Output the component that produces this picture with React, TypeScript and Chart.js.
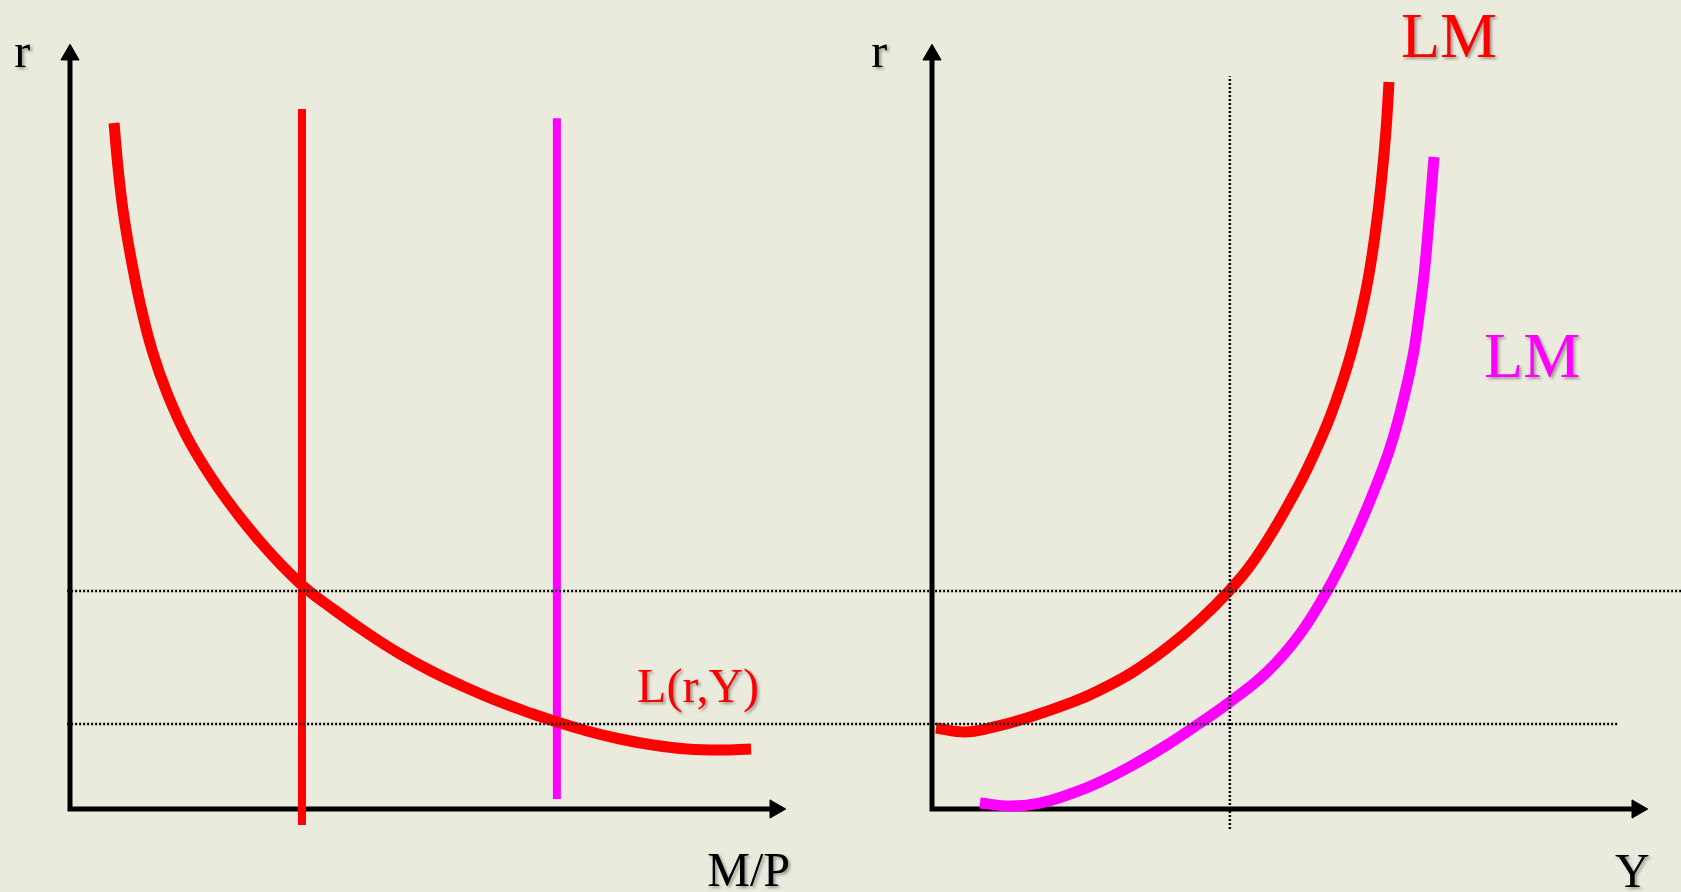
import React, { useEffect, useRef } from 'react';
import { Chart, registerables } from 'chart.js';

Chart.register(...registerables);

// ---------- Data (panel units: each axis runs 0..100 to its arrow tip) ----------
// Left panel: money demand L(r,Y) against M/P
const demandMP = [6.15, 6.70, 7.40, 8.38, 9.78, 11.45, 13.55, 16.34, 19.97, 24.16, 28.21, 32.40, 36.73, 41.48, 46.09, 50.70, 55.45, 60.06, 64.66, 68.02, 72.21, 76.82, 81.42, 86.17, 90.78, 95.11];
const demandR = [89.67, 83.92, 78.30, 72.68, 66.14, 60.00, 54.38, 48.63, 43.01, 37.65, 33.20, 29.28, 26.14, 23.01, 20.26, 17.91, 15.82, 13.99, 12.42, 11.37, 10.20, 9.15, 8.37, 7.84, 7.71, 7.84];

// Money supply verticals (M/P level, r range)
const supply1MP = 32.4;
const supply1R = [-2.1, 91.5];
const supply2MP = 68.0;
const supply2R = [1.3, 90.3];

// Right panel: LM curves (Y, r)
const lm1Y = [0.56, 4.61, 8.10, 13.27, 19.69, 23.46, 28.07, 32.82, 37.43, 41.48, 44.41, 47.63, 51.40, 53.63, 55.59, 57.40, 58.66, 59.78, 60.89, 61.87, 62.71, 63.41, 63.83];
const lm1R = [10.59, 10.07, 10.59, 11.90, 13.99, 15.56, 17.91, 21.05, 24.71, 28.50, 31.76, 36.34, 42.61, 46.93, 51.24, 56.08, 60.00, 64.18, 69.15, 75.03, 81.57, 88.76, 95.03];
const lm2Y = [6.70, 10.89, 15.08, 19.69, 23.46, 28.07, 32.82, 37.43, 41.62, 46.79, 51.40, 55.17, 58.80, 62.01, 63.97, 65.36, 66.48, 67.32, 68.02, 68.72, 69.27, 69.69, 70.11];
const lm2R = [0.78, 0.39, 0.78, 2.09, 3.53, 5.75, 8.37, 11.24, 13.99, 17.91, 22.88, 28.50, 35.16, 42.22, 47.19, 51.76, 56.08, 60.00, 64.58, 69.80, 75.42, 80.26, 85.23];

// Reference levels (dotted guides)
const rLevels = [28.5, 11.1];
const rLevelSpanMP = [[-0.4, 225.0], [-0.4, 216.3]];
const yStar = 41.6;
const yStarR = [-2.6, 95.8];

// Axes (arrow head centres)
const axisEnd = [98.5, 98.6]; // [horizontal, vertical]

// Labels
const labelTexts = ['r', 'r', 'M/P', 'Y', 'L(r,Y)', 'LM', 'LM'];
const labelAxes = ['xL', 'xR', 'xL', 'xR', 'xL', 'xR', 'xR'];
const labelX = [-7.8, -8.5, 89.0, 95.4, 79.2, 65.5, 77.1];
const labelY = [97.0, 97.0, -10.1, -10.2, 14.0, 98.3, 56.5];
const labelColors = ['#000000', '#000000', '#000000', '#000000', '#FF0000', '#FF0000', '#FF00FF'];
const labelSizes = [48, 48, 48, 48, 48, 64, 64];

// ---------- Layout / style ----------
const W = 1681;
const H = 892;
const BG = '#EAEADD';
const PX_PER_X = 7.16;
const PX_PER_Y = 7.65;
const ORIGIN_L = 70;
const ORIGIN_R = 932;
const ORIGIN_Y = 809;
const RED = '#FF0000';
const MAGENTA = '#FF00FF';
const FONT = '"Liberation Serif", "Times New Roman", Times, serif';

const pts = (xs: number[], ys: number[]) => xs.map((x, i) => ({ x, y: ys[i] }));

const lineDs = (xAxisID: string, data: { x: number; y: number }[], color: string, width: number, extra: any = {}) => ({
  type: 'line',
  xAxisID,
  yAxisID: 'y',
  data,
  borderColor: color,
  backgroundColor: color,
  borderWidth: width,
  pointRadius: 0,
  pointHoverRadius: 0,
  fill: false,
  clip: false,
  tension: 0,
  ...extra,
});

const arrowDs = (xAxisID: string, x: number, y: number, rotation: number) => ({
  type: 'line',
  xAxisID,
  yAxisID: 'y',
  data: [{ x, y }],
  showLine: false,
  pointStyle: 'triangle',
  pointRadius: 10.5,
  pointHoverRadius: 10.5,
  pointRotation: rotation,
  pointBackgroundColor: '#000000',
  pointBorderColor: '#000000',
  pointBorderWidth: 1,
  clip: false,
});

const labelPlugin = {
  id: 'labels',
  afterDatasetsDraw(chart: any) {
    const ctx = chart.ctx;
    const ys = chart.scales.y;
    ctx.save();
    labelTexts.forEach((t, i) => {
      const xs = chart.scales[labelAxes[i]];
      const px = xs.getPixelForValue(labelX[i]);
      const py = ys.getPixelForValue(labelY[i]);
      ctx.font = `${labelSizes[i]}px ${FONT}`;
      ctx.textAlign = 'left';
      ctx.textBaseline = 'alphabetic';
      ctx.shadowColor = 'rgba(0,0,0,0.35)';
      ctx.shadowOffsetX = 2;
      ctx.shadowOffsetY = 2;
      ctx.shadowBlur = 3;
      ctx.fillStyle = labelColors[i];
      ctx.fillText(t, px, py);
    });
    ctx.restore();
  },
};

export default function App() {
  const ref = useRef<HTMLCanvasElement>(null);

  useEffect(() => {
    const canvas = ref.current;
    if (!canvas) return;

    const dotted = { borderDash: [2, 2], borderCapStyle: 'butt' };
    const axisStyle = { borderCapStyle: 'square' };
    const curve = { tension: 0.4 };

    const datasets: any[] = [
      // dotted guides (on top)
      lineDs('xL', [{ x: rLevelSpanMP[0][0], y: rLevels[0] }, { x: rLevelSpanMP[0][1], y: rLevels[0] }], '#000000', 2.5, dotted),
      lineDs('xL', [{ x: rLevelSpanMP[1][0], y: rLevels[1] }, { x: rLevelSpanMP[1][1], y: rLevels[1] }], '#000000', 2.5, dotted),
      lineDs('xR', [{ x: yStar, y: yStarR[0] }, { x: yStar, y: yStarR[1] }], '#000000', 2.5, dotted),
      // left panel curves
      lineDs('xL', pts(demandMP, demandR), RED, 11, curve),
      lineDs('xL', [{ x: supply1MP, y: supply1R[0] }, { x: supply1MP, y: supply1R[1] }], RED, 8),
      lineDs('xL', [{ x: supply2MP, y: supply2R[0] }, { x: supply2MP, y: supply2R[1] }], MAGENTA, 8),
      // right panel curves
      lineDs('xR', pts(lm1Y, lm1R), RED, 11, curve),
      lineDs('xR', pts(lm2Y, lm2R), MAGENTA, 11, curve),
      // axes
      lineDs('xL', [{ x: 0, y: axisEnd[1] }, { x: 0, y: 0 }, { x: axisEnd[0], y: 0 }], '#000000', 5, axisStyle),
      lineDs('xR', [{ x: 0, y: axisEnd[1] }, { x: 0, y: 0 }, { x: axisEnd[0], y: 0 }], '#000000', 5, axisStyle),
      arrowDs('xL', 0, axisEnd[1], 0),
      arrowDs('xL', axisEnd[0], 0, 90),
      arrowDs('xR', 0, axisEnd[1], 0),
      arrowDs('xR', axisEnd[0], 0, 90),
    ];

    const chart = new Chart(canvas, {
      type: 'line',
      data: { datasets },
      options: {
        animation: false,
        responsive: false,
        devicePixelRatio: 1,
        events: [],
        layout: { padding: 0, autoPadding: false },
        plugins: {
          legend: { display: false },
          tooltip: { enabled: false },
        },
        scales: {
          xL: { type: 'linear', display: false, min: -ORIGIN_L / PX_PER_X, max: (W - ORIGIN_L) / PX_PER_X },
          xR: { type: 'linear', display: false, min: -ORIGIN_R / PX_PER_X, max: (W - ORIGIN_R) / PX_PER_X },
          y: { type: 'linear', display: false, min: -(H - ORIGIN_Y) / PX_PER_Y, max: ORIGIN_Y / PX_PER_Y },
        },
      } as any,
      plugins: [labelPlugin],
    } as any);

    return () => chart.destroy();
  }, []);

  return (
    <div style={{ position: 'fixed', left: 0, top: 0, width: W, height: H, background: BG, overflow: 'hidden' }}>
      <canvas ref={ref} width={W} height={H} style={{ display: 'block', width: W, height: H }} />
    </div>
  );
}
